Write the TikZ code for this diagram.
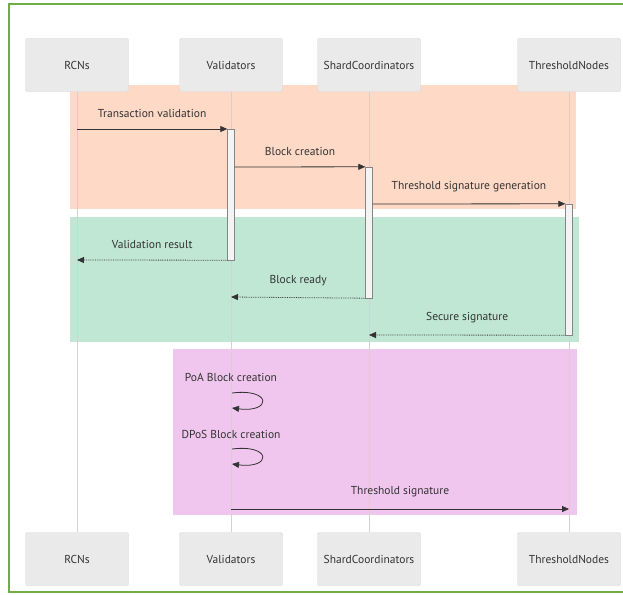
\documentclass[tikz,border=0pt]{standalone}
\usepackage{fontspec}
\setmainfont{PT Sans}
\usetikzlibrary{arrows.meta,positioning}
\definecolor{frameGreen}{RGB}{112,173,71}
\definecolor{actorFill}{RGB}{234,234,234}
\definecolor{actorLine}{RGB}{216,216,216}
\definecolor{lifeGray}{RGB}{210,210,210}
\definecolor{msgGray}{RGB}{51,51,51}
\definecolor{bandOrange}{RGB}{253,217,198}
\definecolor{bandGreen}{RGB}{192,230,212}
\definecolor{bandPink}{RGB}{240,198,238}

\begin{document}
\begin{tikzpicture}[x=1pt,y=-1pt,
    actor/.style={draw=actorLine,fill=actorFill,rounded corners=1.5pt,font=\fontsize{11.5}{13}\selectfont,text=msgGray,minimum width=103pt,minimum height=53pt,inner sep=0pt},
    actbar/.style={draw=msgGray!60,fill=actorFill!50,minimum width=7pt,inner sep=0pt},
    msg/.style={-{Triangle[length=7pt,width=6pt]},msgGray,line width=0.8pt},
    reply/.style={msg,densely dotted},
    lbl/.style={font=\fontsize{11.5}{13}\selectfont,text=msgGray}
  ]
    \useasboundingbox (0,0) rectangle (623,594);
    \fill[white] (0,0) rectangle (623,594);
    \draw[frameGreen,line width=1.6pt] (630,4) -- (9,4) -- (9,592) -- (630,592);

    % background bands
    \fill[bandOrange] (70,85) rectangle (576,209);
    \fill[bandGreen] (70,217) rectangle (579,342);
    \fill[bandPink] (173,349) rectangle (577,515);

    % actors
    \node[actor] (rcnTop) at (77,65) {RCNs};
    \node[actor] (valTop) at (231,65) {Validators};
    \node[actor] (shardTop) at (369,65) {ShardCoordinators};
    \node[actor] (thrTop) at (569,65) {ThresholdNodes};
    \node[actor] (rcnBot) at (77,559) {RCNs};
    \node[actor] (valBot) at (231,559) {Validators};
    \node[actor] (shardBot) at (369,559) {ShardCoordinators};
    \node[actor] (thrBot) at (569,559) {ThresholdNodes};

    % lifelines
    \foreach \a in {rcn,val,shard,thr}
      \draw[lifeGray,line width=0.8pt] (\a Top) -- (\a Bot);

    % activations
    \node[actbar,minimum height=131pt] (valAct) at (231,194.5) {};
    \node[actbar,minimum height=131pt] (shardAct) at (369,232.5) {};
    \node[actbar,minimum height=131pt] (thrAct) at (569,269.5) {};

    \coordinate (rcnA) at (77,129);
    \coordinate (rcnB) at (77,260);
    \coordinate (valB) at (231,297);
    \coordinate (shardB) at (369,335);
    \coordinate (loopA) at (232,393);
    \coordinate (loopB) at (232,408);
    \coordinate (loopC) at (232,449);
    \coordinate (loopD) at (232,464);
    \coordinate (valC) at (231,509);
    \coordinate (thrC) at (569,509);

    % messages
    \draw[msg] (rcnA) -- node[lbl,above=8pt] {Transaction validation} (rcnA -| valAct.west);
    \draw[msg] (valAct.east |- 0,167) -- node[lbl,above=8pt] {Block creation} (shardAct.north west);
    \draw[msg] (shardAct.east |- 0,204) -- node[lbl,above=8pt] {Threshold signature generation} (thrAct.north west);
    \draw[reply] (valAct.south west) -- node[lbl,above=8pt] {Validation result} (rcnB);
    \draw[reply] (shardAct.south west) -- node[lbl,above=8pt] {Block ready} (valB);
    \draw[reply] (thrAct.south west) -- node[lbl,above=8pt] {Secure signature} (shardB);

    \node[lbl] (poaLbl) at (231,377) {PoA Block creation};
    \draw[msg] (loopA) .. controls (272,388) and (272,413) .. (loopB);
    \node[lbl] (dposLbl) at (231,434) {DPoS Block creation};
    \draw[msg] (loopC) .. controls (272,444) and (272,469) .. (loopD);
    \draw[msg] (valC) -- node[lbl,above=8pt] {Threshold signature} (thrC);
  \end{tikzpicture}
\end{document}
